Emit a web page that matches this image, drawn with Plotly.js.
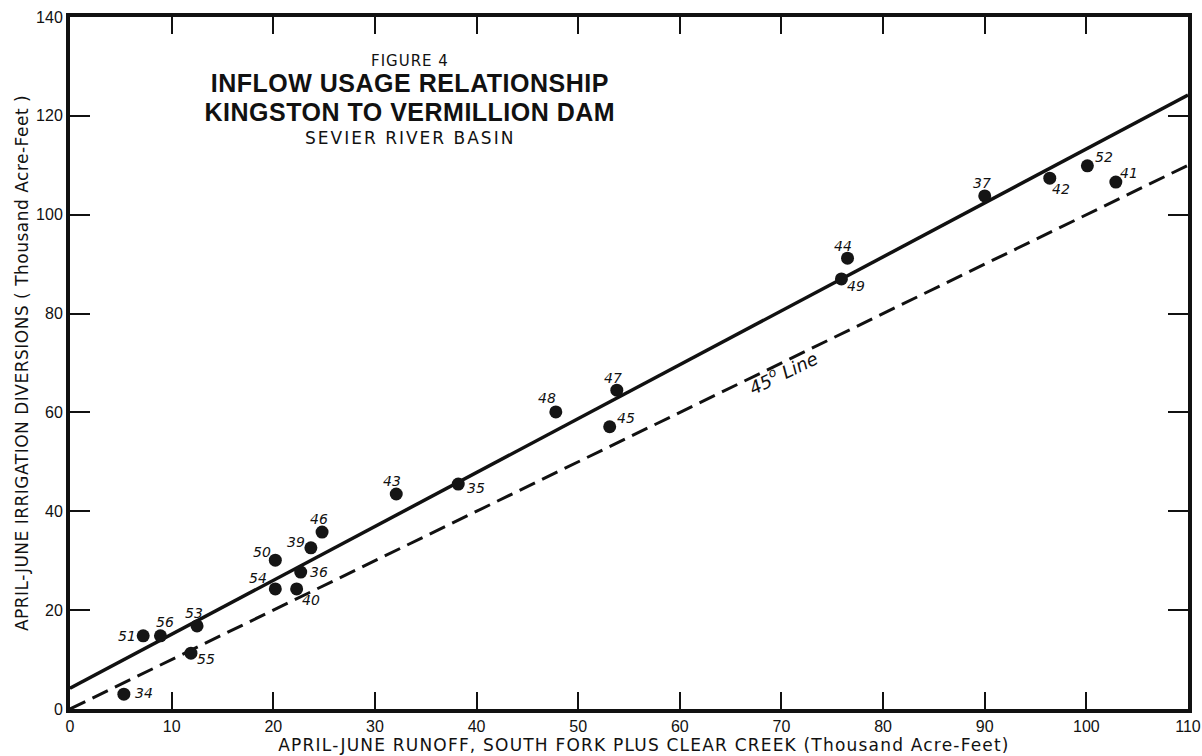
<!DOCTYPE html>
<html>
<head>
<meta charset="utf-8">
<script src="https://cdn.plot.ly/plotly-3.0.1.min.js"></script>
<style>
  html, body { margin: 0; padding: 0; background: #fff; }
  #chart { width: 1202px; height: 756px; }
  /* the original hand lettering is widely spaced */
  #chart .xtitle { letter-spacing: 1.2px; transform: translateX(15px); }
  #chart .ytitle { letter-spacing: 0.5px; }
  #chart g.annotation[data-index="0"] text { letter-spacing: 1px; }
  #chart g.annotation[data-index="1"] text,
  #chart g.annotation[data-index="2"] text { letter-spacing: 0.5px; }
  #chart g.annotation[data-index="3"] text { letter-spacing: 2px; }
</style>
</head>
<body>
<div id="chart"></div>
<script>
// ---- Data ----
const years = ['34','35','36','37','39','40','41','42','43','44','45','46','47','48','49','50','51','52','53','54','55','56'];
const runoff = [5.3, 38.2, 22.7, 90.0, 23.7, 22.3, 102.9, 96.4, 32.1, 76.5, 53.1, 24.8, 53.8, 47.8, 75.9, 20.2, 7.2, 100.1, 12.5, 20.2, 11.9, 8.9];
const diversions = [3.0, 45.5, 27.7, 103.8, 32.6, 24.3, 106.6, 107.4, 43.5, 91.2, 57.1, 35.8, 64.5, 60.1, 87.0, 30.1, 14.8, 109.9, 16.8, 24.3, 11.3, 14.8];

// fitted relationship line (end points)
const fitX = [0, 110];
const fitY = [4.2, 124.2];

// 45 degree line
const line45X = [0, 110];
const line45Y = [0, 110];

const xTickVals = [0,10,20,30,40,50,60,70,80,90,100,110];
const yTickVals = [0,20,40,60,80,100,120,140];

// ---- Styling: label offsets (pixels) for each point's year label ----
const labelDX = [20, 18, 18, -3, -15, 14, 13, 11, -4, -5, 16, -3, -4, -9, 15, -13, -16, 17, -3, -17, 15, 5];
const labelDY = [1, -4, 0, 13, 6, -11, 9, -11, 13, 12, 9, 13, 12, 14, -7, 8, 0, 9, 13, 11, -6, 14];

const FONT = 'Liberation Sans, Arial, sans-serif';
const WIDE = 'DejaVu Sans, Verdana, sans-serif';

const traces = [
  {
    x: fitX, y: fitY, mode: 'lines', type: 'scatter',
    line: {color: '#111', width: 3.5}, hoverinfo: 'skip', showlegend: false
  },
  {
    x: line45X, y: line45Y, mode: 'lines', type: 'scatter',
    line: {color: '#111', width: 3, dash: '17px,8px'}, hoverinfo: 'skip', showlegend: false
  },
  {
    x: runoff, y: diversions, mode: 'markers', type: 'scatter',
    marker: {color: '#151515', size: 13, line: {width: 0}},
    showlegend: false, cliponaxis: false
  }
];

const pointLabels = years.map((yr, i) => ({
  xref: 'x', yref: 'y', x: runoff[i], y: diversions[i], text: yr, showarrow: false,
  xanchor: 'center', yanchor: 'middle', xshift: labelDX[i], yshift: labelDY[i],
  font: {family: WIDE, size: 14, color: '#111', style: 'italic'}
}));

const titleX = 0.304;
const layout = {
  width: 1202, height: 756,
  margin: {l: 70, r: 14, t: 17, b: 47},
  paper_bgcolor: '#fff', plot_bgcolor: '#fff',
  font: {family: FONT, color: '#111'},
  showlegend: false,
  xaxis: {
    range: [0, 110], tickvals: xTickVals, ticks: 'inside', ticklen: 17, tickwidth: 2, tickcolor: '#111',
    showline: true, linewidth: 4, linecolor: '#111', mirror: 'ticks',
    showgrid: false, zeroline: false,
    tickfont: {size: 16, family: FONT, color: '#111'},
    title: {text: 'APRIL-JUNE RUNOFF, SOUTH FORK PLUS CLEAR CREEK (Thousand Acre-Feet)',
            font: {size: 17, family: WIDE, color: '#111'}, standoff: 2},
    automargin: false
  },
  yaxis: {
    range: [0, 140], tickvals: yTickVals, ticks: 'inside', ticklen: 20, tickwidth: 2, tickcolor: '#111',
    showline: true, linewidth: 4, linecolor: '#111', mirror: 'ticks',
    showgrid: false, zeroline: false,
    tickfont: {size: 16, family: FONT, color: '#111'},
    title: {text: 'APRIL-JUNE IRRIGATION DIVERSIONS ( Thousand Acre-Feet )',
            font: {size: 17, family: WIDE, color: '#111'}, standoff: 4},
    automargin: false
  },
  annotations: [
    {xref: 'paper', yref: 'paper', x: titleX, y: 0.9364, text: 'FIGURE 4', showarrow: false,
     xanchor: 'center', yanchor: 'middle', font: {size: 15, family: WIDE, color: '#111'}},
    {xref: 'paper', yref: 'paper', x: titleX, y: 0.9046, text: '<b>INFLOW USAGE RELATIONSHIP</b>', showarrow: false,
     xanchor: 'center', yanchor: 'middle', font: {size: 25, family: FONT, color: '#111'}},
    {xref: 'paper', yref: 'paper', x: titleX, y: 0.8627, text: '<b>KINGSTON TO VERMILLION DAM</b>', showarrow: false,
     xanchor: 'center', yanchor: 'middle', font: {size: 25, family: FONT, color: '#111'}},
    {xref: 'paper', yref: 'paper', x: titleX, y: 0.8251, text: 'SEVIER RIVER BASIN', showarrow: false,
     xanchor: 'center', yanchor: 'middle', font: {size: 17, family: WIDE, color: '#111'}},
    {xref: 'x', yref: 'y', x: 70.2, y: 68.2, text: '45<sup>o</sup> Line', showarrow: false, textangle: -26,
     xanchor: 'center', yanchor: 'middle', font: {size: 18, family: WIDE, color: '#111', style: 'italic'}}
  ].concat(pointLabels)
};

Plotly.newPlot('chart', traces, layout, {displayModeBar: false, staticPlot: true});
</script>
</body>
</html>
